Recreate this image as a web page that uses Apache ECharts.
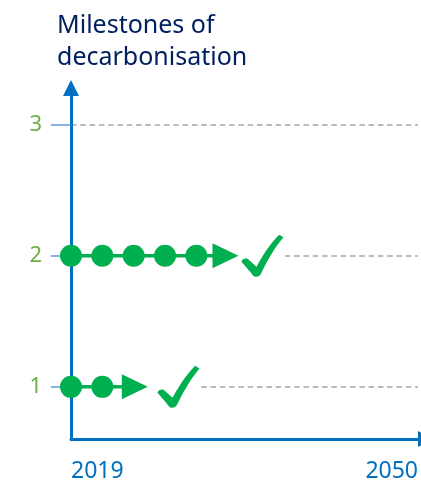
<!DOCTYPE html>
<html>
<head>
<meta charset="utf-8">
<script src="https://cdn.jsdelivr.net/npm/echarts@6/dist/echarts.min.js"></script>
<style>
  html, body { margin: 0; padding: 0; background: #fff; }
  #chart { width: 421px; height: 483px; }
</style>
</head>
<body>
<div id="chart"></div>
<script>
// Timeline span and milestone levels
const yearStart = 2019;
const yearEnd = 2050;
const xTickLabels = [2019, 2050];
const levels = [1, 2, 3];

// Level 1: completed steps, next step (arrow) and achieved mark (check)
const row1Steps = [2019, 2021.8];
const row1Next = 2024.7;
const row1Done = 2028.6;

// Level 2
const row2Steps = [2019, 2021.8, 2024.6, 2027.4, 2030.2];
const row2Next = 2032.8;
const row2Done = 2036.1;

const rows = [
  { level: 1, steps: row1Steps, next: row1Next, done: row1Done },
  { level: 2, steps: row2Steps, next: row2Next, done: row2Done }
];

const GREEN = '#00B050';
const BLUE = '#0070C0';
const CHECK_PATH = 'path://M0 64C3 56 12 54 18 60L36 76C50 50 68 22 90 0L100 6C80 30 62 60 46 94C42 101 32 102 27 96C18 84 9 74 0 64Z';

const series = [];

// White band behind each row so the dashed guide starts after the check mark
series.push({
  type: 'custom',
  z: 2,
  silent: true,
  data: rows.map(r => [r.steps[0], r.done, r.level]),
  renderItem: function (params, api) {
    const a = api.coord([api.value(0), api.value(2)]);
    const b = api.coord([api.value(1), api.value(2)]);
    return {
      type: 'rect',
      shape: { x: a[0] + 2, y: a[1] - 3, width: b[0] - a[0] + 20, height: 6 },
      style: { fill: '#fff' }
    };
  }
});

rows.forEach(r => {
  const pts = r.steps.map(x => ({ value: [x, r.level] }));
  pts.push({
    value: [r.next, r.level],
    symbol: 'triangle',
    symbolSize: [25, 26],
    symbolRotate: -90
  });
  series.push({
    type: 'line',
    z: 3,
    data: pts,
    symbol: 'circle',
    symbolSize: 22,
    showSymbol: true,
    itemStyle: { color: GREEN, opacity: 1 },
    lineStyle: { color: GREEN, width: 3.5 },
    animation: false
  });
  series.push({
    type: 'scatter',
    z: 3,
    data: [[r.done, r.level]],
    symbol: CHECK_PATH,
    symbolSize: [42, 42],
    itemStyle: { color: GREEN, opacity: 1 },
    animation: false
  });
});

const chart = echarts.init(document.getElementById('chart'), null, { renderer: 'canvas' });
chart.setOption({
  backgroundColor: '#fff',
  animation: false,
  title: {
    text: 'Milestones of\ndecarbonisation',
    left: 57,
    top: 10,
    padding: 0,
    textStyle: {
      color: '#002060',
      fontFamily: 'Noto Sans',
      fontSize: 25,
      fontWeight: 'normal',
      lineHeight: 32
    }
  },
  grid: { left: 71, right: 1, top: 96, bottom: 41.5, containLabel: false },
  xAxis: {
    type: 'value',
    min: yearStart,
    max: yearEnd,
    axisLine: {
      show: true,
      symbol: ['none', 'triangle'],
      symbolSize: [16, 16],
      symbolOffset: [0, 8],
      lineStyle: { color: BLUE, width: 3 }
    },
    axisTick: { show: false },
    splitLine: { show: false },
    axisLabel: {
      customValues: xTickLabels,
      formatter: v => String(v),
      color: BLUE,
      fontFamily: 'Noto Sans',
      fontSize: 23,
      margin: 21,
      alignMinLabel: 'left',
      alignMaxLabel: 'right'
    }
  },
  yAxis: {
    type: 'value',
    min: 0.602,
    max: 3.22,
    axisLine: {
      show: true,
      symbol: ['none', 'triangle'],
      symbolSize: [16, 16],
      symbolOffset: [0, 8],
      lineStyle: { color: BLUE, width: 3 }
    },
    axisTick: {
      show: true,
      customValues: levels,
      length: 20,
      lineStyle: { color: '#5B9BD5', width: 1.5 }
    },
    splitLine: {
      show: true,
      customValues: levels,
      lineStyle: { color: '#A6A6A6', width: 1.5, type: [5.5, 3.8] }
    },
    axisLabel: {
      customValues: levels,
      color: '#70AD47',
      fontFamily: 'Noto Sans',
      fontSize: 22,
      margin: 29
    }
  },
  series: series
});
</script>
</body>
</html>
